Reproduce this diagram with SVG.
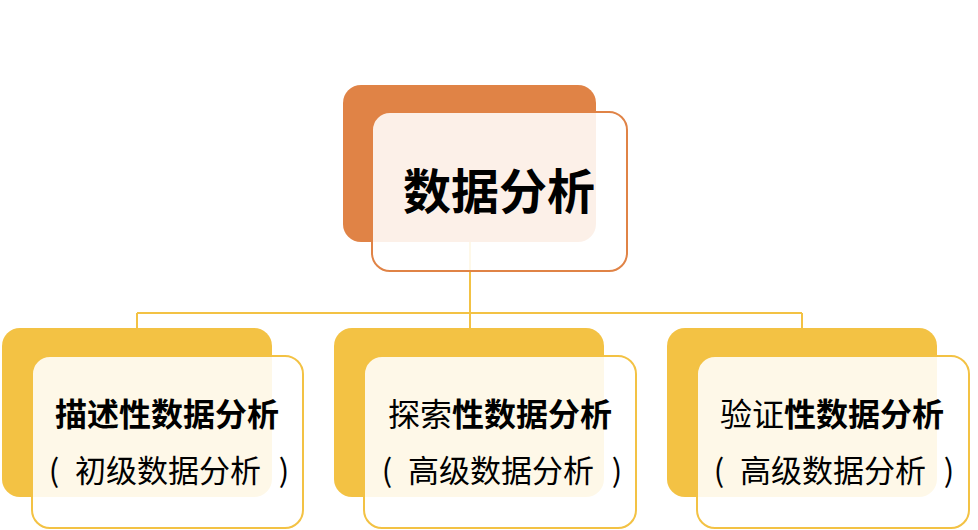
<svg xmlns="http://www.w3.org/2000/svg" width="978" height="530" viewBox="0 0 978 530">
<style>
.bk-o{fill:#E08346}
.fr-o{fill:#fff;fill-opacity:0.88;stroke:#E08346;stroke-width:2}
.bk-y{fill:#F3C244}
.fr-y{fill:#fff;fill-opacity:0.88;stroke:#F3C244;stroke-width:2}
.conn{fill:none;stroke:#F3C244;stroke-width:2}
text{font-family:"Noto Sans CJK SC","Noto Sans",sans-serif;fill:#000;text-anchor:middle}
.t1{font-size:48px;font-weight:bold}
.t2{font-size:32px}
.t3{font-size:31px}
.b{font-weight:bold}
.n{font-weight:normal}
</style>
<rect width="978" height="530" fill="#fff"/>
<g id="connectors">
<path class="conn" d="M470,242 V313 M137,313 H802 M137,313 V328 M470,313 V328 M802,313 V328"/>
</g>
<g id="node-root">
<rect class="bk-o" x="343" y="85" width="253" height="157" rx="18"/>
<rect class="fr-o" x="372" y="112" width="255" height="159" rx="18"/>
<text class="t1" x="499" y="209">数据分析</text>
</g>
<g id="node-descriptive">
<rect class="bk-y" x="2" y="328" width="270" height="169" rx="18"/>
<rect class="fr-y" x="32" y="356" width="271" height="172" rx="18"/>
<text class="t2 b" x="167" y="426">描述性数据分析</text>
<text class="t3" x="54" y="482">(</text>
<text class="t3" x="168" y="482">初级数据分析</text>
<text class="t3" x="284" y="482">)</text>
</g>
<g id="node-exploratory">
<rect class="bk-y" x="334" y="328" width="270" height="169" rx="18"/>
<rect class="fr-y" x="364" y="356" width="272" height="172" rx="18"/>
<text class="t2" x="500" y="426"><tspan class="n">探索</tspan><tspan class="b">性数据分析</tspan></text>
<text class="t3" x="387" y="482">(</text>
<text class="t3" x="501" y="482">高级数据分析</text>
<text class="t3" x="617" y="482">)</text>
</g>
<g id="node-confirmatory">
<rect class="bk-y" x="667" y="328" width="270" height="169" rx="18"/>
<rect class="fr-y" x="697" y="356" width="272" height="172" rx="18"/>
<text class="t2" x="832" y="426"><tspan class="n">验证</tspan><tspan class="b">性数据分析</tspan></text>
<text class="t3" x="719" y="482">(</text>
<text class="t3" x="833" y="482">高级数据分析</text>
<text class="t3" x="949" y="482">)</text>
</g>
</svg>
